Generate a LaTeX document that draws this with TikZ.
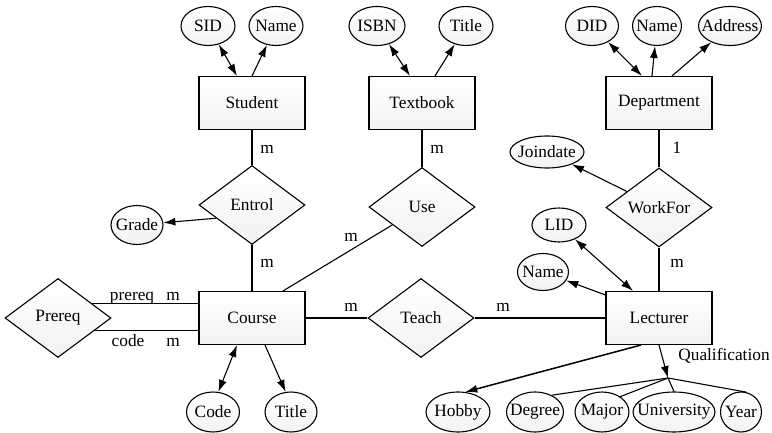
\documentclass[tikz,border=0pt]{standalone}
\usepackage{fontspec}
\setmainfont{Liberation Serif}
\newfontfamily\erfont{Liberation Serif}
\usetikzlibrary{shapes.geometric,arrows.meta,calc}
\newcommand\zw[1]{\makebox[0pt]{#1}}
\begin{document}
\begin{tikzpicture}[x=1pt,y=-1pt,
  font=\erfont\fontsize{17.3}{20}\selectfont,
  line width=1.1pt,
  boxfill/.style={top color=white,bottom color=gray!10},
  ent/.style={rectangle,draw,boxfill,minimum width=106pt,minimum height=53pt,inner sep=0pt},
  rel/.style={diamond,draw,boxfill,minimum width=106pt,minimum height=79pt,inner sep=0pt},
  attr/.style={ellipse,draw,boxfill,minimum height=39pt,inner sep=0pt},
  onehead/.style={-{Latex[length=12pt,width=8pt]}},
  twohead/.style={{Latex[length=12pt,width=8pt]}-{Latex[length=12pt,width=8pt]}},
  lbl/.style={inner sep=0pt,anchor=base}
]
\useasboundingbox (0,0) rectangle (772,433);

% entities
\node[ent] (student)    at (252,103) {Student};
\node[ent] (textbook)   at (422,103) {Textbook};
\node[ent] (department) at (659,103) {Department};
\node[ent] (course)     at (252,318) {Course};
\node[ent] (lecturer)   at (659,318) {Lecturer};

% relationships
\node[rel] (entrol)  at (252,205)   {Entrol};
\node[rel] (use)     at (422,207)   {Use};
\node[rel] (workfor) at (659,207.5) {WorkFor};
\node[rel] (prereq)  at (58,318)    {Prereq};
\node[rel] (teach)   at (421,318)   {Teach};

% attributes
\node[attr,minimum width=54pt] (sid)     at (208,26)  {\zw{SID}};
\node[attr,minimum width=54pt] (sname)   at (276,26)  {\zw{Name}};
\node[attr,minimum width=56pt] (isbn)    at (377,26)  {\zw{ISBN}};
\node[attr,minimum width=54pt] (ttitle)  at (466,26)  {\zw{Title}};
\node[attr,minimum width=53pt] (did)     at (592,26)  {\zw{DID}};
\node[attr,minimum width=49pt] (dname)   at (657,26)  {\zw{Name}};
\node[attr,minimum width=63pt] (address) at (730,26)  {\zw{Address}};
\node[attr,minimum width=52pt,minimum height=39pt] (grade)    at (137,225) {\zw{Grade}};
\node[attr,minimum width=74pt,minimum height=32pt] (joindate) at (547,152) {\zw{Joindate}};
\node[attr,minimum width=54pt,minimum height=34pt] (lid)      at (559,225) {\zw{LID}};
\node[attr,minimum width=51pt,minimum height=37pt] (lname)    at (543,272) {\zw{Name}};
\node[attr,minimum width=53pt,minimum height=40pt] (code)     at (213,412) {\zw{Code}};
\node[attr,minimum width=52pt,minimum height=40pt] (ctitle)   at (291,412) {\zw{Title}};
\node[attr,minimum width=64pt,minimum height=40pt] (hobby)    at (458,412) {\zw{Hobby}};
\node[attr,minimum width=57pt,minimum height=40pt] (degree)   at (535,412) {\zw{Degree}};
\node[attr,minimum width=54pt,minimum height=40pt] (major)    at (602,412) {\zw{Major}};
\node[attr,minimum width=82pt,minimum height=40pt] (univ)     at (674,412) {\zw{University}};
\node[attr,minimum width=41pt,minimum height=40pt] (year)     at (741,412) {\zw{Year}};

% attribute links
\draw[twohead] (sid) -- ($(student.north)+(-15,0)$);
\draw[onehead] (student.north) -- (sname);
\draw[twohead] (isbn) -- ($(textbook.north)+(-12,0)$);
\draw[onehead] ($(textbook.north)+(13,0)$) -- (ttitle);
\draw[twohead] (did) -- ($(department.north)+(-17,0)$);
\draw[onehead] ($(department.north)+(-7,0)$) -- (dname);
\draw[onehead] ($(department.north)+(13,0)$) -- (address);
\draw[onehead] ($(entrol.west)!0.33!(entrol.south)$) -- (grade);
\draw[onehead] ($(workfor.west)!0.4!(workfor.north)$) -- (joindate);
\draw[twohead] (lid) -- ($(lecturer.north)+(-26,0)$);
\draw[onehead] ($(lecturer.north west)+(0,4)$) -- (lname);
\draw[twohead] ($(course.south)+(-15,0)$) -- (code.75);
\draw[onehead] ($(course.south)+(13,0)$) -- (ctitle.105);
\draw[onehead,line width=1.5pt] ($(lecturer.south)+(-18,0)$) -- (hobby.70);

% composite attribute
\coordinate (qual) at (668,378);
\draw[onehead] (lecturer.south) -- (qual);
\draw (qual) -- (degree.45);
\draw (qual) -- (major.40);
\draw (qual) -- (univ.north);
\draw (qual) -- (year.75);
\node[lbl] at (724,360) {Qualification};

% relationship links
\draw (student) -- (entrol);
\draw (entrol) -- (course);
\draw (textbook) -- (use);
\draw ($(course.north)+(31,0)$) -- (use);
\draw (department) -- (workfor);
\draw (workfor) -- (lecturer);
\draw (course) -- (teach);
\draw (teach) -- (lecturer);
\coordinate (pr1) at ($(prereq.east)!0.367!(prereq.north)$);
\coordinate (pr2) at ($(prereq.east)!0.316!(prereq.south)$);
\draw (pr1) -- (pr1 -| course.west);
\draw (pr2) -- (pr2 -| course.west);

% cardinalities
\node[lbl] at (267,154) {m};
\node[lbl] at (267,267) {m};
\node[lbl] at (437,154) {m};
\node[lbl] at (677,154) {1};
\node[lbl] at (677,267) {m};
\node[lbl] at (351,242) {m};
\node[lbl] at (351,312) {m};
\node[lbl] at (503,312) {m};
\node[lbl] at (132,300) {prereq};
\node[lbl] at (173,300) {m};
\node[lbl] at (128,346) {code};
\node[lbl] at (173,346) {m};
\end{tikzpicture}
\end{document}
